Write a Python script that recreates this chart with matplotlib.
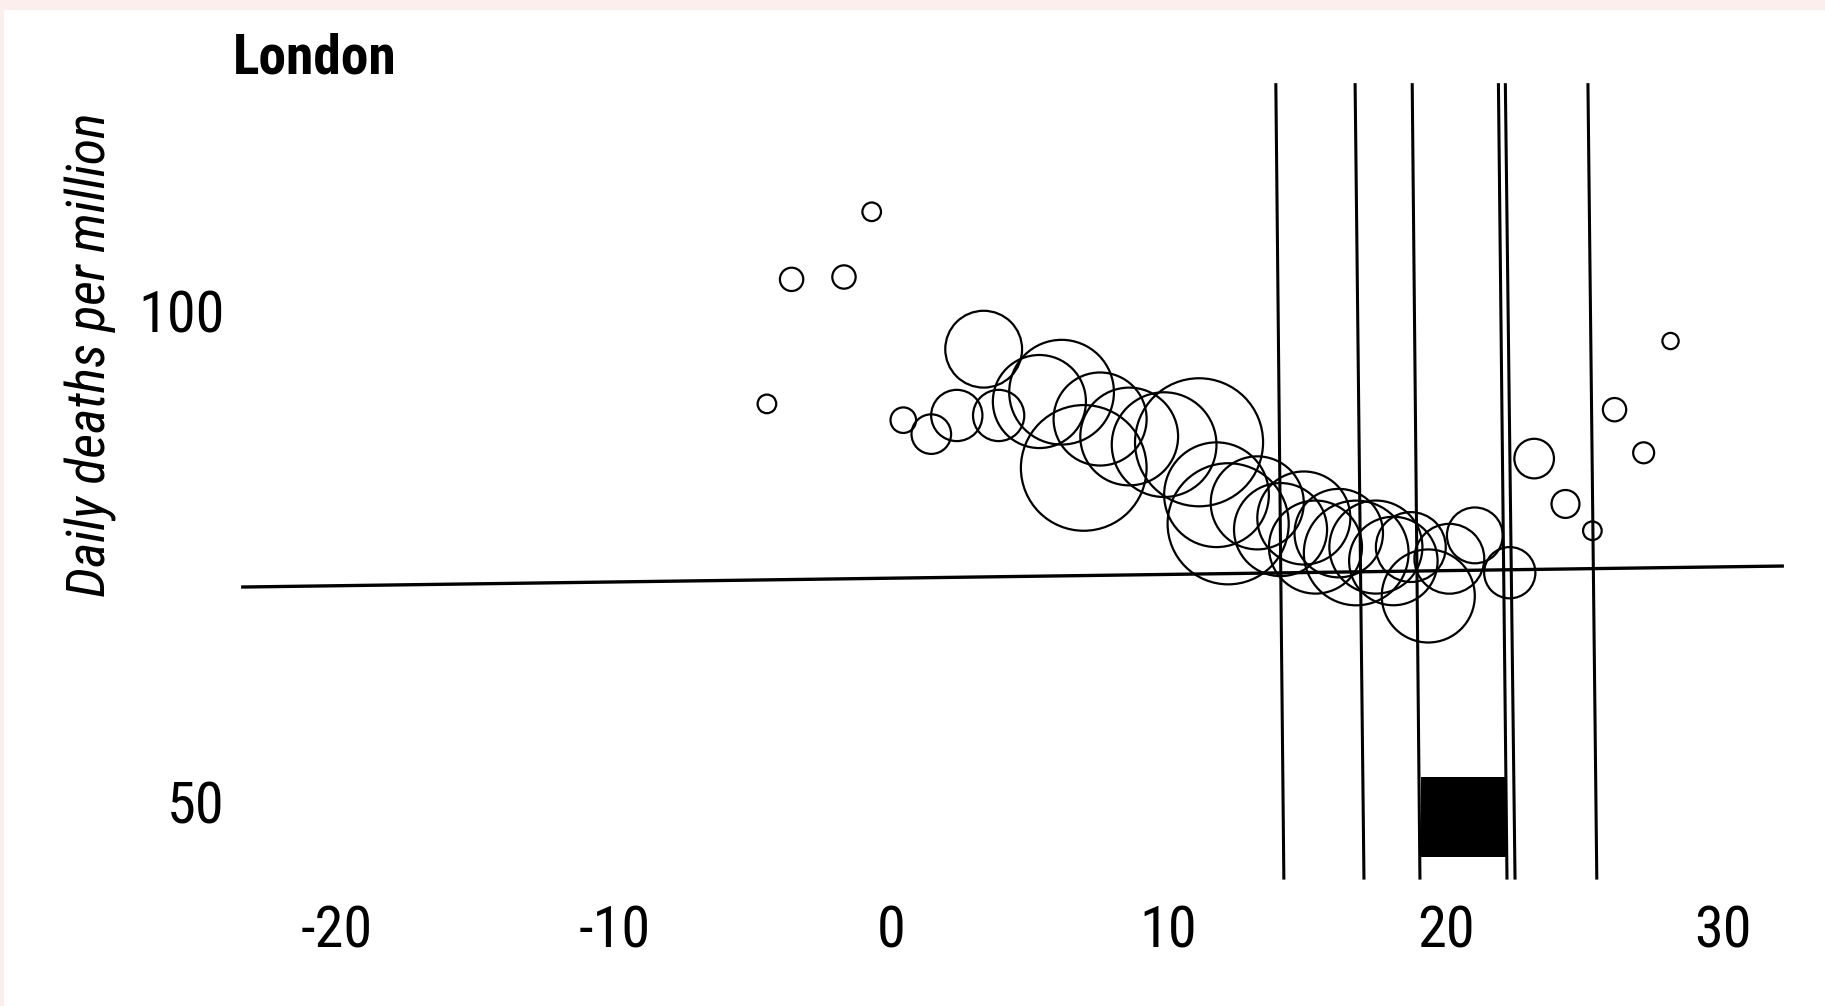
import matplotlib
matplotlib.use("Agg")

import numpy as np
import matplotlib.pyplot as plt
from matplotlib.patches import Rectangle

# circles: day offset, daily deaths per million, marker diameter (pt)
days = [-4.49, -3.60, -1.71, -0.71, 0.43, 1.44, 2.36, 3.33, 3.87, 5.34,
        6.14, 6.94, 7.53, 8.58, 9.84, 11.10, 11.73, 12.15, 13.20, 14.04,
        14.88, 15.30, 16.14, 16.77, 17.48, 18.11, 18.74, 19.37, 20.13, 21.05,
        22.31, 23.19, 24.32, 25.29, 26.09, 27.14, 28.11]
deaths = [90.54, 103.22, 103.46, 110.10, 88.88, 87.46, 89.36, 96.11, 89.36, 90.78,
          91.73, 84.02, 89.00, 87.22, 86.39, 86.63, 81.29, 78.33, 80.46, 77.74,
          78.92, 75.96, 77.38, 75.36, 75.96, 74.54, 75.96, 70.98, 74.77, 77.15,
          73.35, 84.97, 80.35, 77.62, 89.95, 85.56, 96.94]
sizes = [13.4, 16.8, 16.8, 13.4, 18.4, 28.5, 36.9, 55.3, 36.9, 67.0,
         75.4, 90.5, 67.0, 70.4, 75.4, 92.2, 75.4, 87.2, 67.0, 67.0,
         67.0, 67.0, 63.7, 75.4, 67.0, 63.7, 50.3, 67.0, 50.3, 40.2,
         36.9, 28.5, 20.1, 13.4, 16.8, 15.1, 11.7]

# reference line (slightly skewed in the scan)
hline_x = [-23.46, 32.20]
hline_y = [71.89, 74.03]

# vertical markers: x at top and bottom
vline_top = [13.87, 16.73, 18.79, 21.90, 22.15, 25.13]
vline_bot = [14.16, 17.05, 19.07, 22.21, 22.50, 25.45]
vline_y = [123.2, 42.1]

# black block
block_x = [19.10, 22.21]
block_y = [44.40, 52.55]

xticks = [-20, -10, 0, 10, 20, 30]
xticklabels = ["-20", "-10", "0", "10", "20", "30"]
yticks = [50, 100]
yticklabels = ["50", "100"]

narrow = ["Roboto Condensed", "Archivo Narrow", "DejaVu Sans"]

fig = plt.figure(figsize=(18.25, 10.06), dpi=100)
fig.patch.set_facecolor("#fdeeee")
fig.add_artist(Rectangle((4 / 1825, 0), 1, 1 - 10 / 1006, transform=fig.transFigure,
                         facecolor="white", edgecolor="none", zorder=0))

ax = fig.add_axes([240 / 1825, 1 - 885 / 1006, 1550 / 1825, 805 / 1006])
ax.set_facecolor("none")
ax.set_xlim(-23.50, 32.42)
ax.set_ylim(41.55, 123.52)
for s in ax.spines.values():
    s.set_visible(False)

ax.plot(hline_x, hline_y, color="black", lw=2.4, solid_capstyle="butt")
for xt, xb in zip(vline_top, vline_bot):
    ax.plot([xt, xb], vline_y, color="black", lw=2.2, solid_capstyle="butt")

ax.add_patch(Rectangle((block_x[0], block_y[0]), block_x[1] - block_x[0],
                       block_y[1] - block_y[0], facecolor="black", edgecolor="none"))

ax.scatter(days, deaths, s=np.array(sizes) ** 2, facecolors="none",
           edgecolors="black", linewidths=1.6, zorder=3)

ax.set_xticks(xticks)
ax.set_xticklabels(xticklabels, family=narrow, fontsize=42)
ax.set_yticks(yticks)
ax.set_yticklabels(yticklabels, family=narrow, fontsize=42)
ax.tick_params(axis="x", length=0, pad=14)
ax.tick_params(axis="y", length=0, pad=11)

fig.text(233 / 1825, 1 - 73 / 1006, "London", family=narrow, fontsize=40,
         fontweight="bold", ha="left", va="baseline")
fig.text(91 / 1825, 1 - 355 / 1006, "Daily deaths per million", family=narrow,
         fontsize=39, style="italic", rotation=90, ha="center", va="center")

fig.savefig("out.png", dpi=100)
